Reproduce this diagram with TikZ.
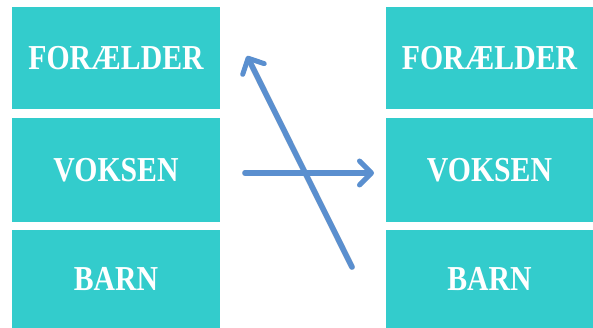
\documentclass[tikz,border=0pt]{standalone}
\usepackage{fontspec}
\newfontfamily\boxfont{Liberation Serif}[FakeStretch=0.85]
\usetikzlibrary{arrows.meta}
\definecolor{boxcyan}{HTML}{33CCCC}
\definecolor{arrowblue}{HTML}{5A8FCF}
\tikzset{
  rolebox/.style={draw=none, fill=boxcyan, text=white, inner sep=0pt,
    font=\boxfont\bfseries\fontsize{35}{40}\selectfont},
  relarrow/.style={draw=arrowblue, line width=5.5pt, line cap=round, line join=round,
    -{Straight Barb[length=12pt, width=24pt, line width=5pt, line cap=round, line join=round]}},
  arrowshadow/.style={draw=black, opacity=0.15, line width=6pt, line cap=round, shorten >=6pt}
}
\begin{document}
\begin{tikzpicture}[x=1pt, y=-1pt]
\useasboundingbox (0,0) rectangle (593,328);
% left column
\node[rolebox, minimum width=208pt, minimum height=102pt] (lf) at (116,58) {FORÆLDER};
\node[rolebox, minimum width=208pt, minimum height=104pt] (lv) at (116,170) {VOKSEN};
\node[rolebox, minimum width=208pt, minimum height=98pt] (lb) at (116,279) {BARN};
% right column
\node[rolebox, minimum width=207pt, minimum height=102pt] (rf) at (489.5,58) {FORÆLDER};
\node[rolebox, minimum width=207pt, minimum height=104pt] (rv) at (489.5,170) {VOKSEN};
\node[rolebox, minimum width=207pt, minimum height=98pt] (rb) at (489.5,279) {BARN};
% arrows
\coordinate (dstart) at (352,267);
\coordinate (dend) at (247,56);
\coordinate (hstart) at (245,173);
\coordinate (hend) at (374,173);
\begin{scope}[shift={(2,3)}]
\draw[arrowshadow] (dstart) -- (dend);
\draw[arrowshadow] (hstart) -- (hend);
\end{scope}
\draw[relarrow] (hstart) -- (hend);
\draw[relarrow] (dstart) -- (dend);
\end{tikzpicture}
\end{document}
